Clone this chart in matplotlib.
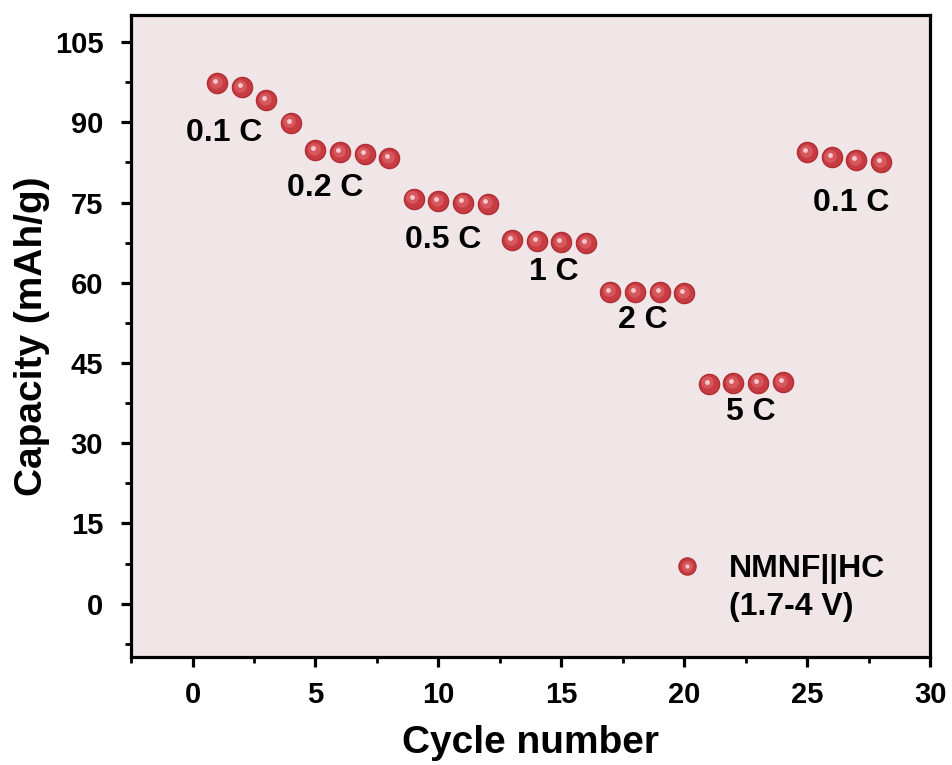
import numpy as np
import matplotlib
matplotlib.use("Agg")
import matplotlib.pyplot as plt
from matplotlib.lines import Line2D
from matplotlib.legend_handler import HandlerTuple
from matplotlib.transforms import offset_copy

plt.rcParams["font.family"] = ["Liberation Sans", "DejaVu Sans"]
plt.rcParams["font.weight"] = "bold"

# rate capability data
cycles = np.arange(1, 29)
capacity = [97.3, 96.6, 94.1, 89.9, 84.8, 84.4, 84.0, 83.3,
            75.7, 75.3, 75.0, 74.8, 67.9, 67.8, 67.6, 67.4,
            58.3, 58.2, 58.2, 58.1, 41.1, 41.2, 41.3, 41.4,
            84.4, 83.5, 82.9, 82.5]
rate_labels = ["0.1 C", "0.2 C", "0.5 C", "1 C", "2 C", "5 C", "0.1 C"]
rate_label_xy = [(1.3, 88.0), (5.4, 77.7), (10.2, 67.9), (14.7, 62.0),
                 (18.3, 53.0), (22.7, 35.9), (26.8, 74.9)]

fig = plt.figure(figsize=(9.53, 7.65), dpi=100)
ax = fig.add_axes([0.1375, 0.141, 0.8385, 0.839])
ax.set_facecolor("#f0e6e8")

# shaded-sphere look: dark base, lighter core, small highlight
base, = ax.plot(cycles, capacity, "o", ms=14.5, mfc="#c63c42", mec="#b02e34",
                mew=1.0, ls="none", zorder=3)
core, = ax.plot(cycles, capacity, "o", ms=9, mfc="#d6585d", mec="none",
                ls="none", zorder=4,
                transform=offset_copy(ax.transData, fig, x=-1, y=1, units="points"))
spot, = ax.plot(cycles, capacity, "o", ms=3.5, mfc="#f6c8cc", mec="none",
                ls="none", zorder=5,
                transform=offset_copy(ax.transData, fig, x=-1.5, y=1.5, units="points"))

for txt, (tx, ty) in zip(rate_labels, rate_label_xy):
    ax.text(tx, ty, txt, fontsize=23, fontweight="bold", ha="center",
            va="center", color="black", zorder=6)

ax.set_xlim(-2.5, 30)
ax.set_ylim(-10, 110)
ax.set_xticks(np.arange(0, 31, 5))
ax.set_yticks(np.arange(0, 106, 15))
ax.set_xticks(np.arange(-2.5, 30, 2.5), minor=True)
ax.set_yticks(np.arange(-7.5, 110, 7.5), minor=True)

for s in ax.spines.values():
    s.set_linewidth(2.3)
ax.tick_params(which="major", direction="out", length=7.5, width=2.3,
               labelsize=21)
ax.tick_params(axis="x", which="major", pad=9.5)
ax.tick_params(axis="y", which="major", pad=12.5)
ax.tick_params(which="minor", direction="out", length=4, width=2.0)
for lab in ax.get_xticklabels() + ax.get_yticklabels():
    lab.set_fontweight("bold")

ax.set_xlabel("Cycle number", fontsize=28, fontweight="bold", labelpad=12)
ax.set_ylabel("Capacity (mAh/g)", fontsize=28, fontweight="bold", labelpad=3)

blank = Line2D([], [], ls="none", marker="")
leg = ax.legend([(base, core, spot), blank], ["NMNF||HC", "(1.7-4 V)"],
                handler_map={tuple: HandlerTuple(ndivide=1)},
                loc="upper left", bbox_to_anchor=(0.636, 0.205), frameon=False,
                prop={"size": 23, "weight": "bold"}, handletextpad=0.7,
                handlelength=1.2, labelspacing=0.25, markerscale=0.85)

fig.savefig("out.png", facecolor="white")
